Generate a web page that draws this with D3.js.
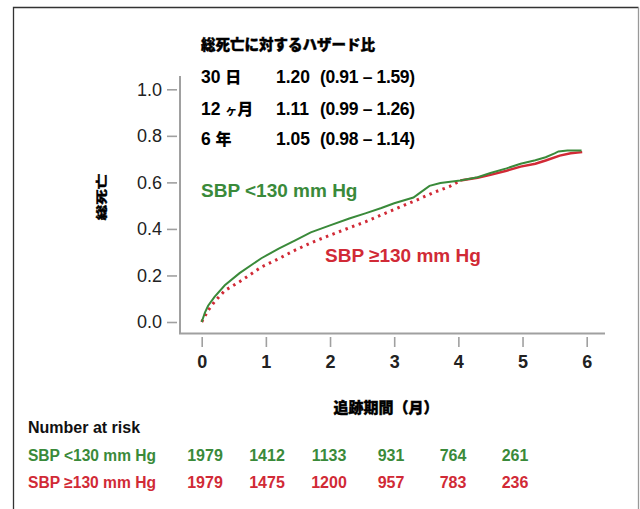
<!DOCTYPE html>
<html>
<head>
<meta charset="utf-8">
<script src="https://cdn.jsdelivr.net/npm/d3@7"></script>
<style>
  body { margin: 0; background: #fff; }
  text { font-family: "Liberation Sans", Arial, sans-serif; }
  .cjk { font-family: "Noto Sans CJK JP", sans-serif; }
</style>
</head>
<body>
<svg id="chart"></svg>
<script>
const svgWidth = 640, svgHeight = 509;

// hazard ratio box
const hrTitle = "総死亡に対するハザード比";
const hrPeriods = [["30 ", "", "日"], ["12 ", "ヶ", "月"], ["6 ", "", "年"]];
const hrValues = ["1.20", "1.11", "1.05"];
const hrCI = ["(0.91 – 1.59)", "(0.99 – 1.26)", "(0.98 – 1.14)"];

// cumulative mortality
const lowTimes  = [0, 0.05, 0.1, 0.2, 0.36, 0.59, 0.93, 1.2, 1.45, 1.7, 2.0, 2.3, 2.55, 2.8, 3.0, 3.3, 3.4, 3.55, 3.72, 4.03, 4.3, 4.5, 4.75, 4.97, 5.2, 5.36, 5.5, 5.56, 5.7, 5.92];
const lowValues = [0, 0.04, 0.07, 0.108, 0.158, 0.21, 0.274, 0.315, 0.35, 0.385, 0.415, 0.445, 0.467, 0.49, 0.51, 0.535, 0.555, 0.585, 0.597, 0.608, 0.622, 0.64, 0.66, 0.68, 0.695, 0.708, 0.725, 0.733, 0.737, 0.737];
const highTimes  = [0, 0.1, 0.2, 0.36, 0.59, 0.93, 1.2, 1.45, 1.7, 2.0, 2.3, 2.55, 2.8, 3.1, 3.4, 3.6, 3.86, 4.03, 4.3, 4.5, 4.75, 4.97, 5.2, 5.36, 5.58, 5.75, 5.93];
const highValues = [0, 0.05, 0.087, 0.135, 0.173, 0.236, 0.272, 0.308, 0.34, 0.373, 0.405, 0.43, 0.46, 0.495, 0.53, 0.555, 0.582, 0.608, 0.62, 0.632, 0.65, 0.668, 0.68, 0.694, 0.715, 0.725, 0.73];

const yTicks = [0, 0.2, 0.4, 0.6, 0.8, 1.0];
const xTicks = [0, 1, 2, 3, 4, 5, 6];

// number at risk
const riskGroups = ["SBP <130 mm Hg", "SBP ≥130 mm Hg"];
const riskLow  = [1979, 1412, 1133, 931, 764, 261];
const riskHigh = [1979, 1475, 1200, 957, 783, 236];

const green = "#3a8a3a", red = "#d12a36", axisGrey = "#a0a0a0";

const svg = d3.select("#chart").attr("width", svgWidth).attr("height", svgHeight);

// frame
svg.append("path").attr("d", "M13.5,520V7.5H638.5").attr("fill", "none").attr("stroke", "#333").attr("stroke-width", 1.3);
svg.append("line").attr("x1", 638.5).attr("x2", 638.5).attr("y1", 7.5).attr("y2", 509)
    .attr("stroke", "#999").attr("stroke-width", 1.3);

const x = d3.scaleLinear().domain([0, 6]).range([201.7, 586.7]);
const y = d3.scaleLinear().domain([0, 1]).range([322, 89.3]);

// axis lines
svg.append("line").attr("x1", 180).attr("x2", 180).attr("y1", 76).attr("y2", 333.5)
    .attr("stroke", axisGrey).attr("stroke-width", 2);
svg.append("line").attr("x1", 179).attr("x2", 605).attr("y1", 333.5).attr("y2", 333.5)
    .attr("stroke", axisGrey).attr("stroke-width", 2);

const yAxis = svg.append("g").attr("transform", "translate(177,0)")
    .call(d3.axisLeft(y).tickValues(yTicks).tickFormat(d3.format(".1f")).tickSize(10).tickPadding(5));
yAxis.select(".domain").remove();
yAxis.selectAll(".tick line").attr("stroke", axisGrey).attr("stroke-width", 1.6);
yAxis.selectAll(".tick text").attr("font-size", 18).attr("fill", "#222")
    .attr("font-family", "Liberation Sans, Arial, sans-serif");

const xAxis = svg.append("g").attr("transform", "translate(0,337)")
    .call(d3.axisBottom(x).tickValues(xTicks).tickFormat(d3.format("d")).tickSize(10).tickPadding(8));
xAxis.select(".domain").remove();
xAxis.selectAll(".tick line").attr("stroke", axisGrey).attr("stroke-width", 1.6);
xAxis.selectAll(".tick text").attr("font-size", 18).attr("font-weight", "bold").attr("fill", "#222")
    .attr("font-family", "Liberation Sans, Arial, sans-serif");

// axis titles
svg.append("text").attr("class", "cjk")
    .attr("transform", "translate(106,197) rotate(-90) scale(1,0.7)")
    .attr("text-anchor", "middle").attr("font-size", 15.5).attr("font-weight", 900)
    .attr("stroke", "#000").attr("stroke-width", 0.5)
    .text("総死亡");
svg.append("text").attr("class", "cjk")
    .attr("x", 386).attr("y", 413).attr("text-anchor", "middle")
    .attr("font-size", 15).attr("font-weight", 900)
    .attr("stroke", "#000").attr("stroke-width", 0.4)
    .text("追跡期間（月）");

// curves
const line = d3.line().x(d => x(d[0])).y(d => y(d[1]));
const lowPts = lowTimes.map((t, i) => [t, lowValues[i]]);
const highPts = highTimes.map((t, i) => [t, highValues[i]]);

svg.append("path").datum(highPts.filter(d => d[0] <= 4.03)).attr("d", line)
    .attr("fill", "none").attr("stroke", red).attr("stroke-width", 3)
    .attr("stroke-dasharray", "2.5,4.5");
svg.append("path").datum(highPts.filter(d => d[0] >= 4.03)).attr("d", line)
    .attr("fill", "none").attr("stroke", red).attr("stroke-width", 2.4);
svg.append("path").datum(lowPts).attr("d", line)
    .attr("fill", "none").attr("stroke", green).attr("stroke-width", 2);

// series labels
svg.append("text").attr("x", 201).attr("y", 197).attr("font-size", 19).attr("font-weight", "bold")
    .attr("fill", green).text(riskGroups[0]);
svg.append("text").attr("x", 325).attr("y", 262).attr("font-size", 19).attr("font-weight", "bold")
    .attr("fill", red).text(riskGroups[1]);

// hazard ratio block
svg.append("text").attr("class", "cjk").attr("x", 201).attr("y", 50)
    .attr("font-size", 14.5).attr("font-weight", 900)
    .attr("stroke", "#000").attr("stroke-width", 0.4).text(hrTitle);
const hrRows = [83, 114.5, 145];
hrPeriods.forEach((p, i) => {
    const t = svg.append("text").attr("x", 201).attr("y", hrRows[i])
        .attr("font-size", 17.5).attr("font-weight", "bold");
    t.append("tspan").text(p[0]);
    if (p[1]) t.append("tspan").attr("class", "cjk").attr("font-size", 12).text(p[1]);
    t.append("tspan").attr("class", "cjk").attr("font-size", 16).attr("font-weight", 900).text(p[2]);
    svg.append("text").attr("x", 276).attr("y", hrRows[i])
        .attr("font-size", 17.5).attr("font-weight", "bold").text(hrValues[i]);
    svg.append("text").attr("x", 320).attr("y", hrRows[i])
        .attr("font-size", 17.5).attr("font-weight", "bold")
        .attr("textLength", 95).attr("lengthAdjust", "spacing").text(hrCI[i]);
});

// number at risk table
const col = d3.scalePoint().domain(d3.range(riskLow.length)).range([205, 515]);
svg.append("text").attr("x", 28).attr("y", 433).attr("font-size", 16).attr("font-weight", "bold")
    .attr("fill", "#111").text("Number at risk");
[[riskLow, green, 461], [riskHigh, red, 488]].forEach(([vals, c, yy], g) => {
    svg.append("text").attr("x", 28).attr("y", yy).attr("font-size", 16).attr("font-weight", "bold")
        .attr("fill", c).attr("textLength", 128).attr("lengthAdjust", "spacingAndGlyphs").text(riskGroups[g]);
    svg.selectAll(null).data(vals).enter().append("text")
        .attr("x", (d, i) => col(i)).attr("y", yy).attr("text-anchor", "middle")
        .attr("font-size", 16).attr("font-weight", "bold").attr("fill", c).text(d => d);
});
</script>
</body>
</html>
